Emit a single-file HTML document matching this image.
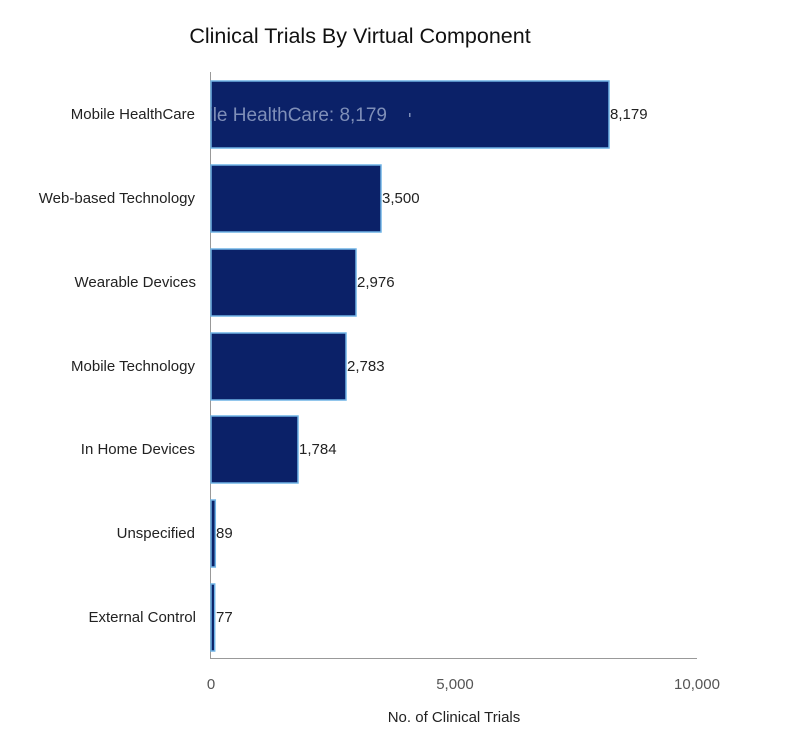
<!DOCTYPE html>
<html><head><style>
body{margin:0;background:#fff;}
svg{display:block;font-family:"Liberation Sans",sans-serif;}
</style></head><body>
<svg width="801" height="750" viewBox="0 0 801 750">
<text x="360" y="43" text-anchor="middle" font-size="21.5" fill="#111">Clinical Trials By Virtual Component</text>
<line x1="210.5" y1="72" x2="210.5" y2="658" stroke="#999" stroke-width="1"/>
<line x1="210" y1="658.5" x2="697" y2="658.5" stroke="#999" stroke-width="1"/>
<g fill="#0b2168" stroke="#6fb3e6" stroke-width="1.5">
<rect x="211" y="81" width="398" height="67"/>
<rect x="211" y="165" width="170" height="67"/>
<rect x="211" y="249" width="145" height="67"/>
<rect x="211" y="333" width="135" height="67"/>
<rect x="211" y="416" width="87" height="67"/>
<rect x="211" y="500" width="4.3" height="67"/>
<rect x="211" y="584" width="3.7" height="67"/>
</g>
<g font-size="15" fill="#222">
<g text-anchor="end">
<text x="195" y="119">Mobile HealthCare</text>
<text x="195" y="203">Web-based Technology</text>
<text x="196" y="287">Wearable Devices</text>
<text x="195" y="371">Mobile Technology</text>
<text x="195" y="454">In Home Devices</text>
<text x="195" y="538">Unspecified</text>
<text x="196" y="622">External Control</text>
</g>
<text x="610" y="119">8,179</text>
<text x="382" y="203">3,500</text>
<text x="357" y="287">2,976</text>
<text x="347" y="371">2,783</text>
<text x="299" y="454">1,784</text>
<text x="216" y="538">89</text>
<text x="216" y="622">77</text>
</g>
<svg x="211" y="90" width="200" height="50"><text x="176" y="31" text-anchor="end" font-size="19" fill="#7f8fb8">Mobile HealthCare: 8,179</text></svg>
<rect x="409" y="113" width="1.5" height="4" fill="#7f8fb8"/>
<g font-size="15" fill="#555" text-anchor="middle">
<text x="211" y="689">0</text>
<text x="455" y="689">5,000</text>
<text x="697" y="689">10,000</text>
</g>
<text x="454" y="722" text-anchor="middle" font-size="15" fill="#222">No. of Clinical Trials</text>
</svg>
</body></html>
